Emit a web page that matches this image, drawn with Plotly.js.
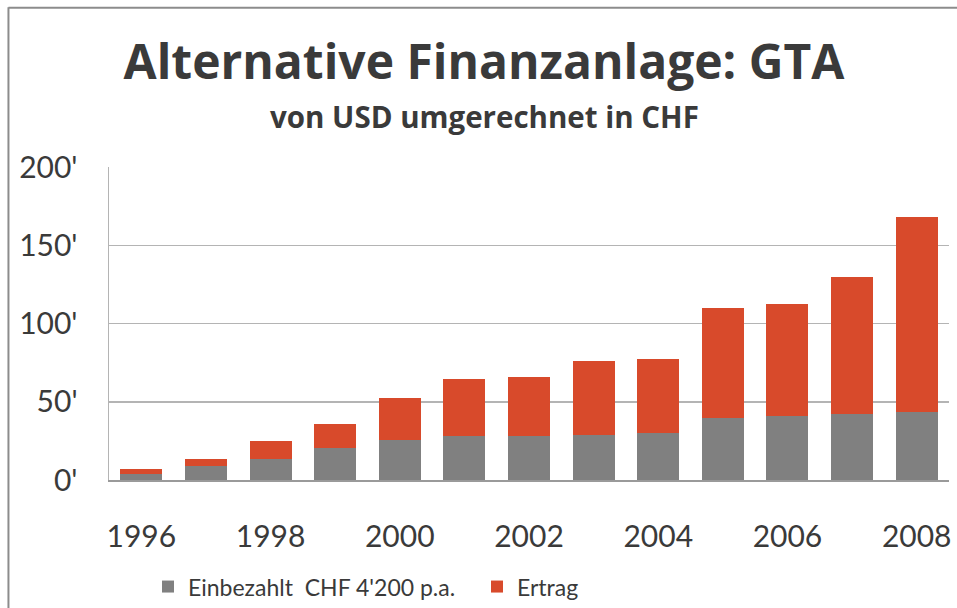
<!DOCTYPE html>
<html>
<head>
<meta charset="utf-8">
<script src="https://cdn.plot.ly/plotly-3.0.1.min.js"></script>
<style>
  html, body { margin: 0; padding: 0; background: #ffffff; }
  #chart { width: 957px; height: 608px; }
</style>
</head>
<body>
<div id="chart"></div>
<script>
// ---- data ----
const years = [1996, 1997, 1998, 1999, 2000, 2001, 2002, 2003, 2004, 2005, 2006, 2007, 2008];
const einbezahlt = [3.8, 8.9, 13.4, 20.4, 25.5, 28.0, 28.2, 28.7, 29.9, 39.7, 41.0, 42.2, 43.5];
const ertrag =     [3.2, 4.5, 11.4, 15.3, 26.7, 36.7, 37.8, 47.1, 47.2, 70.5, 71.7, 87.4, 124.4];
const yTickVals = [0, 50, 100, 150, 200];
const yTickText = ["0'", "50'", "100'", "150'", "200'"];
const xTickVals = [1996, 1998, 2000, 2002, 2004, 2006, 2008];
const seriesNames = ["Einbezahlt\u00A0\u00A0CHF 4'200 p.a.", "Ertrag"];
const titleText = "Alternative Finanzanlage: GTA";
const subtitleText = "von USD umgerechnet in CHF";

const FONT = "Lato, 'Open Sans', sans-serif";
const TFONT = "'Open Sans', Lato, sans-serif";
const TXT = "#3a3a3a";

const traces = [
  {
    type: "bar", x: years, y: einbezahlt, name: seriesNames[0],
    marker: { color: "#808080" }, hoverinfo: "x+y+name"
  },
  {
    type: "bar", x: years, y: ertrag, name: seriesNames[1],
    marker: { color: "#d84a2b" }, hoverinfo: "x+y+name"
  }
];

const layout = {
  width: 957, height: 608,
  paper_bgcolor: "#ffffff", plot_bgcolor: "#ffffff",
  margin: { l: 109, r: 8.4, t: 167, b: 127.7, pad: 0, autoexpand: false },
  barmode: "stack",
  bargap: 0.35,
  font: { family: FONT, color: TXT },
  title: {
    text: "<b>" + titleText + "</b>",
    font: { family: TFONT, size: 48, color: TXT },
    x: 484 / 957, xref: "container", xanchor: "center",
    y: 1 - 62 / 608, yref: "container", yanchor: "middle"
  },
  annotations: [{
    text: "<b>" + subtitleText + "</b>",
    xref: "paper", yref: "paper",
    x: (484 - 109) / 839.6, y: (480.3 - 116) / 313.3,
    xanchor: "center", yanchor: "middle", showarrow: false,
    font: { family: TFONT, size: 29.5, color: TXT }
  }],
  xaxis: {
    range: [1995.5, 2008.5],
    tickvals: xTickVals,
    ticktext: xTickVals.map(String),
    tickfont: { family: FONT, size: 30, color: TXT },
    ticks: "", showgrid: false, zeroline: false,
    showline: true, linecolor: "#9a9a9a", linewidth: 2,
    ticklabelstandoff: 29,
    fixedrange: true
  },
  yaxis: {
    range: [0, 200],
    tickvals: yTickVals,
    ticktext: yTickText,
    tickfont: { family: FONT, size: 30, color: TXT },
    ticks: "", showgrid: true, gridcolor: "#b4b4b4", gridwidth: 1.5,
    zeroline: false, showline: true, linecolor: "#b4b4b4", linewidth: 1.5,
    mirror: false,
    ticklabelstandoff: 24,
    fixedrange: true
  },
  showlegend: true,
  legend: {
    orientation: "h",
    x: (148 - 109) / 839.6, xanchor: "left",
    y: (480.3 - 587) / 313.3, yanchor: "middle",
    font: { family: FONT, size: 23, color: TXT },
    traceorder: "normal",
    entrywidth: 284,
    bgcolor: "rgba(0,0,0,0)"
  },
  shapes: [
    { type: "line", xref: "paper", yref: "paper",
      x0: (8.5 - 109) / 839.6, x1: (8.5 - 109) / 839.6,
      y0: (480.3 - 7) / 313.3, y1: (480.3 - 620) / 313.3,
      line: { color: "#8c8c8c", width: 2 } },
    { type: "line", xref: "paper", yref: "paper",
      x0: (8.5 - 109) / 839.6, x1: (970 - 109) / 839.6,
      y0: (480.3 - 7.5) / 313.3, y1: (480.3 - 7.5) / 313.3,
      line: { color: "#8c8c8c", width: 2 } }
  ]
};

Plotly.newPlot("chart", traces, layout, { displayModeBar: false, staticPlot: true });
</script>
</body>
</html>
